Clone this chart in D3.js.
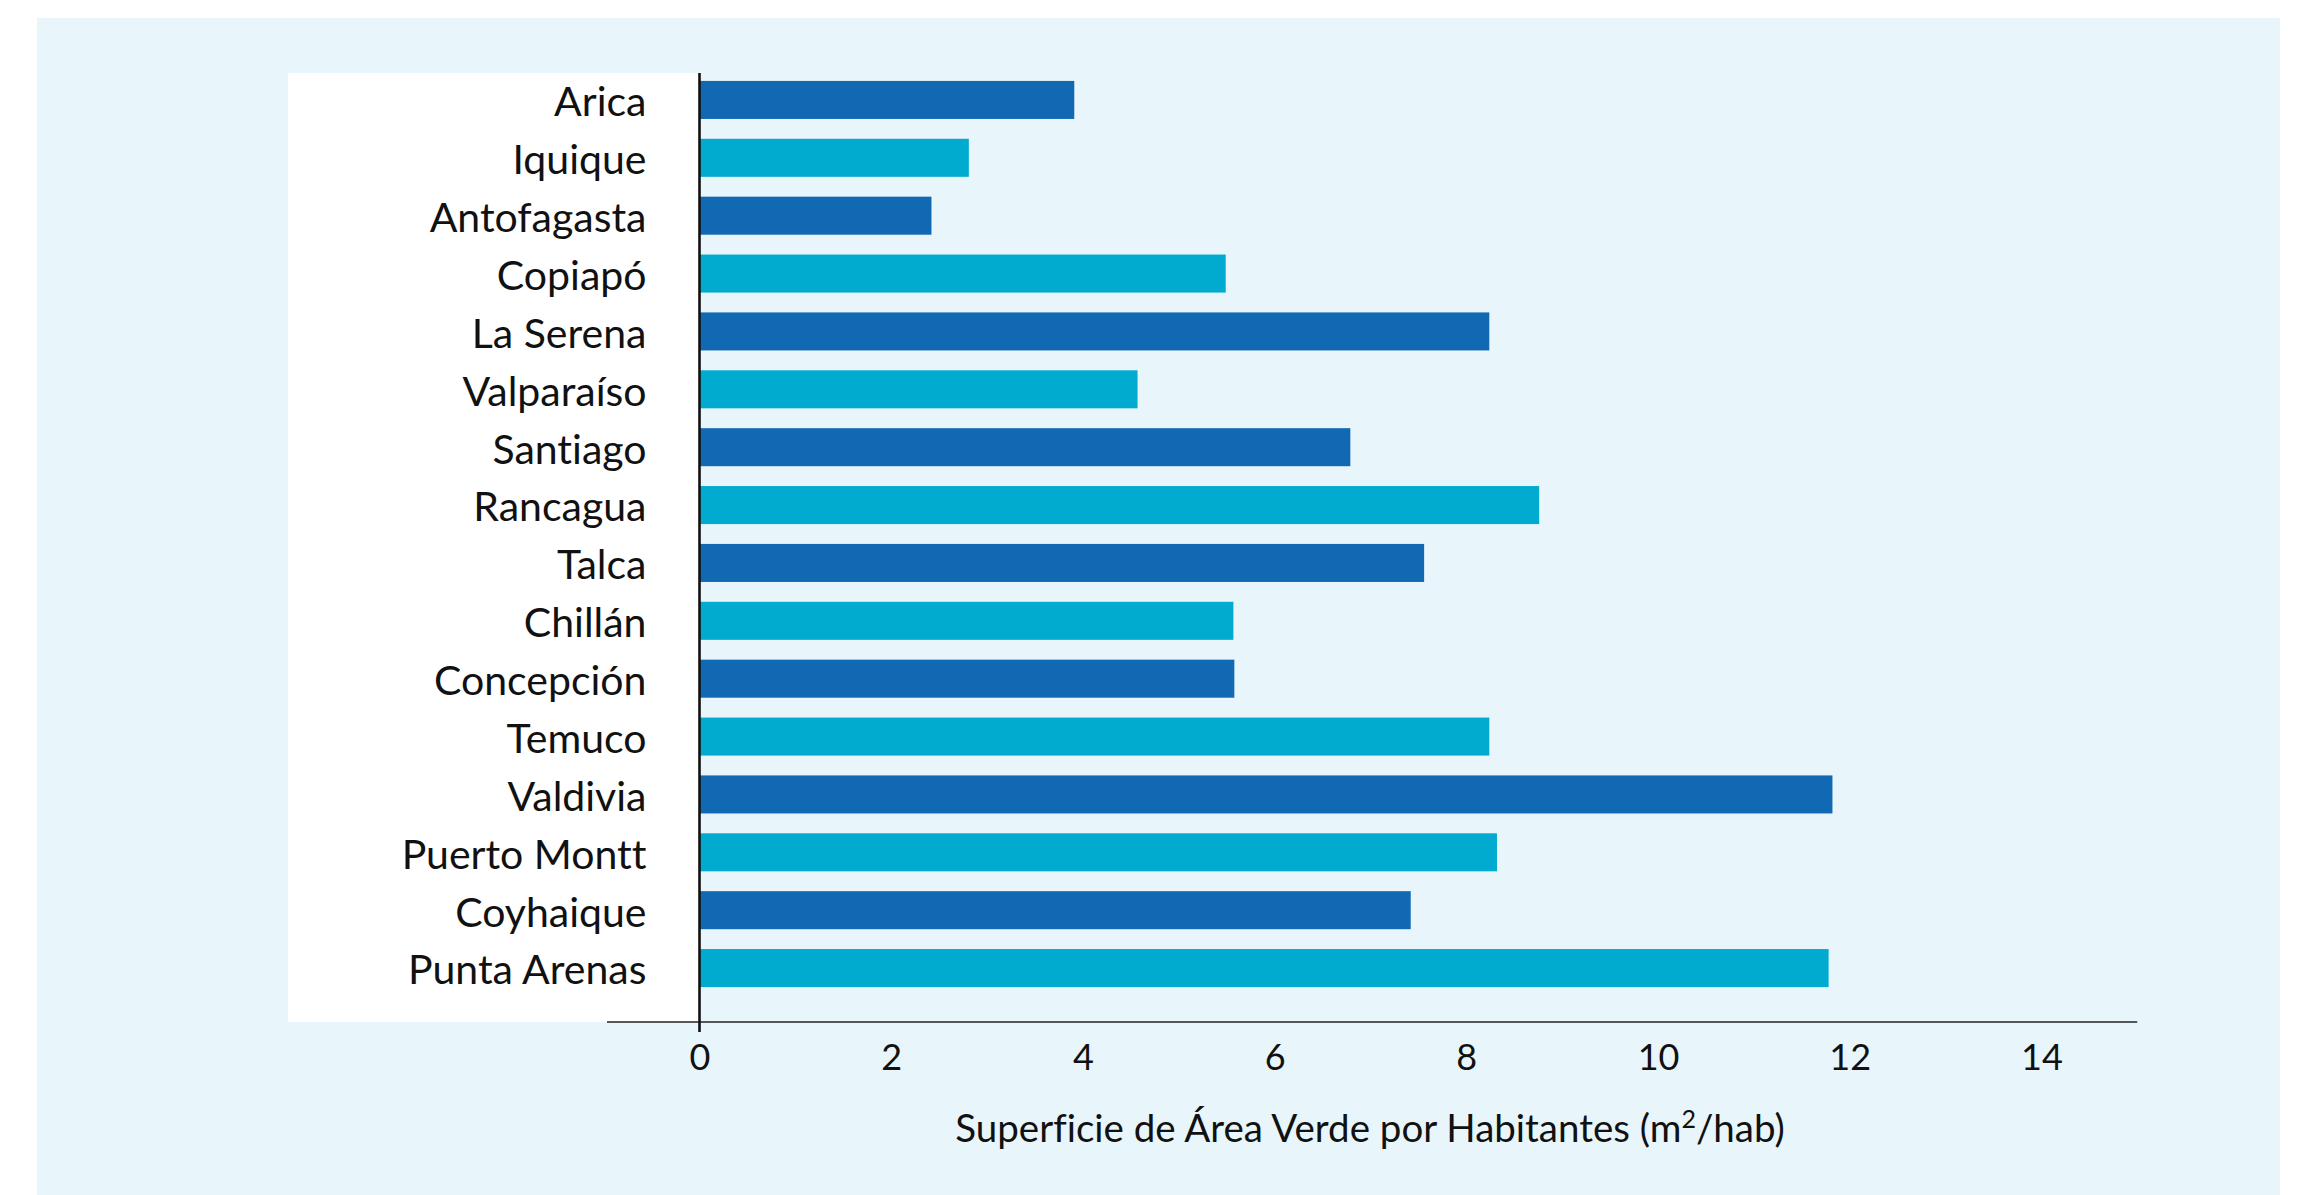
<!DOCTYPE html>
<html>
<head>
<meta charset="utf-8">
<script src="https://cdn.jsdelivr.net/npm/d3@7"></script>
<style>
  body { margin: 0; background: #ffffff; }
  svg text { font-variant-ligatures: none; font-feature-settings: "liga" 0, "clig" 0; }
</style>
</head>
<body>
<div class="svg-container"></div>
<script>
/*** Data ***/

const cities = ['Arica', 'Iquique', 'Antofagasta', 'Copiapó', 'La Serena', 'Valparaíso',
    'Santiago', 'Rancagua', 'Talca', 'Chillán', 'Concepción', 'Temuco', 'Valdivia',
    'Puerto Montt', 'Coyhaique', 'Punta Arenas']

const areaPerHab = [3.91, 2.81, 2.42, 5.49, 8.24, 4.57, 6.79, 8.76, 7.56, 5.57, 5.58,
    8.24, 11.82, 8.32, 7.42, 11.78]

const xTicks = [0, 2, 4, 6, 8, 10, 12, 14]

const barColors = ['#1168b3', '#00abcf']

/*** Layout ***/

const svgWidth = 2299
const svgHeight = 1195

const x0 = 699.5      // position of value 0
const unitPx = 95.85  // pixels per unit
const axisY = 1022

let svg = d3.select('.svg-container')
    .append('svg')
    .attr('width', svgWidth)
    .attr('height', svgHeight)
    .style('font-family', 'Lato, sans-serif')

// light blue panel
svg.append('rect')
    .attr('x', 37).attr('y', 18)
    .attr('width', 2243).attr('height', 1177)
    .attr('fill', '#e8f6fb')

// white box behind the city names
svg.append('rect')
    .attr('x', 288).attr('y', 73)
    .attr('width', 412).attr('height', axisY - 73)
    .attr('fill', '#ffffff')

/* Scales */

let xScale = d3.scaleLinear()
    .domain([0, 14])
    .range([x0, x0 + 14 * unitPx])

let yScale = d3.scaleBand()
    .domain(cities)
    .range([71, 997])
    .paddingInner(0.343)
    .paddingOuter(0.1715)

/* Bars */

svg.append('g')
    .selectAll('rect')
    .data(cities)
    .enter()
    .append('rect')
    .attr('x', xScale(0))
    .attr('y', d => yScale(d))
    .attr('width', (d, i) => xScale(areaPerHab[i]) - xScale(0))
    .attr('height', yScale.bandwidth())
    .attr('fill', (d, i) => barColors[i % 2])

/* Axes */

// horizontal base line, drawn wider than the ticks as in the original
svg.append('line')
    .attr('x1', xScale(-0.965)).attr('x2', xScale(15))
    .attr('y1', axisY).attr('y2', axisY)
    .attr('stroke', '#222')
    .attr('stroke-width', 1.6)

let bottomAxis = d3.axisBottom(xScale)
    .tickValues(xTicks)
    .tickSize(0)
    .tickPadding(0)

let xAxis = svg.append('g')
    .attr('transform', `translate(0, ${axisY})`)
    .call(bottomAxis)

xAxis.select('.domain').remove()
xAxis.selectAll('text')
    .attr('y', 48)
    .attr('dy', null)
    .style('font-family', 'Lato, sans-serif')
    .style('font-size', '36px')
    .attr('fill', '#111')

let leftAxis = d3.axisLeft(yScale)
    .tickSize(0)
    .tickPadding(53)

let yAxis = svg.append('g')
    .attr('transform', `translate(${x0}, 0)`)
    .call(leftAxis)

yAxis.select('.domain').remove()
yAxis.selectAll('text')
    .attr('dy', '0.4em')
    .style('font-family', 'Lato, sans-serif')
    .style('font-size', '41px')
    .attr('fill', '#111')

// vertical axis line at zero
svg.append('line')
    .attr('x1', x0).attr('x2', x0)
    .attr('y1', 73).attr('y2', 1032)
    .attr('stroke', '#111')
    .attr('stroke-width', 2.6)

/* Axis title */

let title = svg.append('text')
    .attr('x', 1370)
    .attr('y', 1142)
    .attr('text-anchor', 'middle')
    .style('font-size', '38.5px')
    .attr('fill', '#111')

title.append('tspan').text('Superficie de Área Verde por Habitantes (m')
title.append('tspan')
    .attr('dy', -14)
    .style('font-size', '25px')
    .text('2')
title.append('tspan')
    .attr('dy', 14)
    .text('/hab)')
</script>
</body>
</html>
